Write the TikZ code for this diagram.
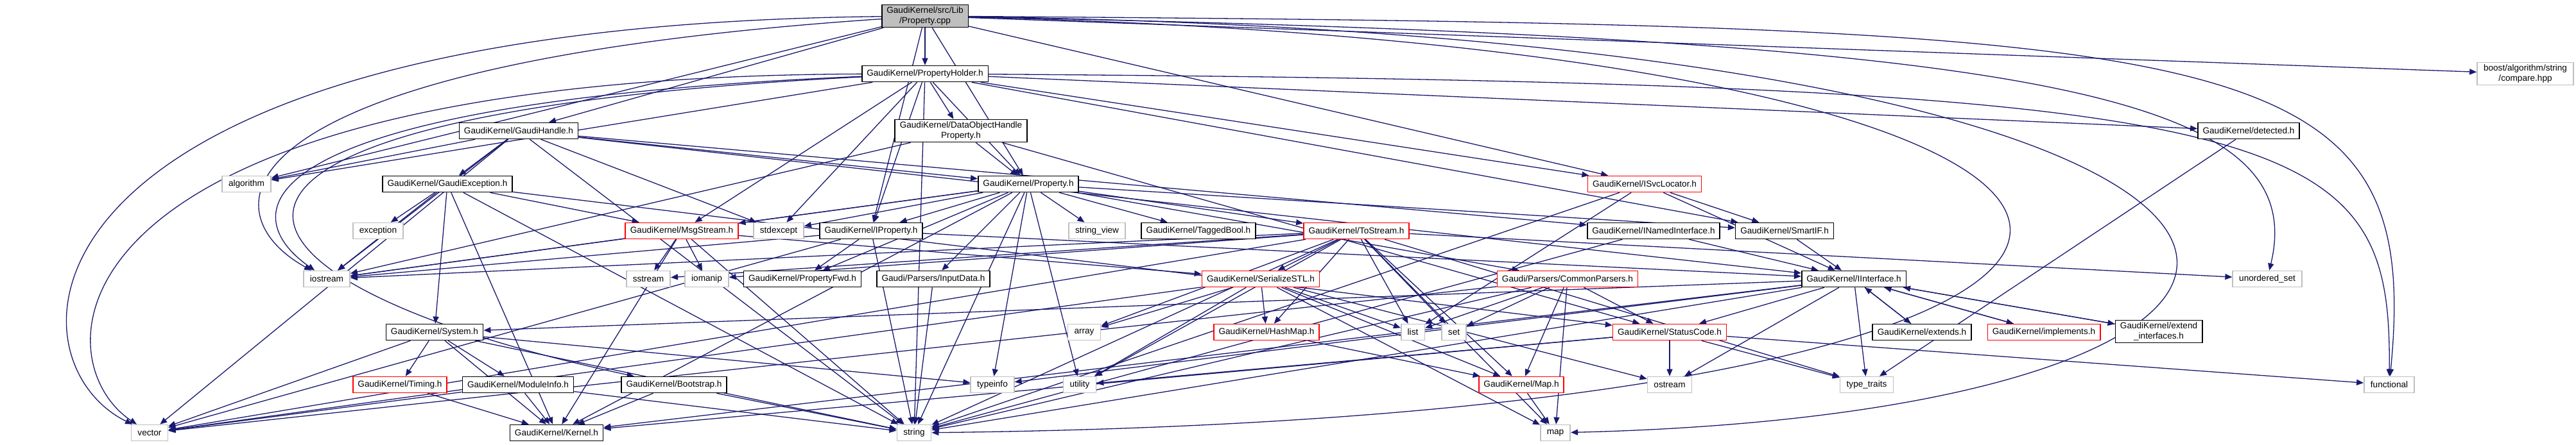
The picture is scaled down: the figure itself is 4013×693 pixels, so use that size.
\documentclass[tikz,border=0pt]{standalone}
\usepackage{fontspec}
\setmainfont{Liberation Sans}
\usetikzlibrary{arrows.meta,backgrounds}
\definecolor{depc}{HTML}{191970}
\definecolor{sysgray}{HTML}{BFBFBF}
\tikzset{
  >={Triangle[length=5.5pt,width=4.5pt]},
  box/.style={draw=black,fill=white,line width=0.8pt,inner xsep=3.8pt,inner ysep=1.5pt,minimum height=12.5pt,font=\fontsize{6.8}{8.2}\selectfont,align=center},
  sbox/.style={box,draw=sysgray,inner xsep=5pt},
  rbox/.style={box,draw=red},
  gbox/.style={box,fill=sysgray},
  dep/.style={->,draw=depc,line width=0.65pt},
}

\begin{document}
\begin{tikzpicture}[x=0.5pt,y=-0.5pt]
\useasboundingbox (0,0) rectangle (4013,693);
% top rows
\node[gbox] (src) at (1441,25) {GaudiKernel/src/Lib\\/Property.cpp};
\node[box] (hold) at (1441,115) {GaudiKernel/PropertyHolder.h};
\node[sbox] (boost) at (3934,115) {boost/algorithm/string\\/compare.hpp};
\node[box] (handle) at (808,204) {GaudiKernel/GaudiHandle.h};
\node[box] (dohp) at (1497,204) {GaudiKernel/DataObjectHandle\\Property.h};
\node[box] (detect) at (3503,204) {GaudiKernel/detected.h};
\node[sbox] (algo) at (384,287) {algorithm};
\node[box] (gexc) at (697,287) {GaudiKernel/GaudiException.h};
\node[box] (prop) at (1602,287) {GaudiKernel/Property.h};
\node[rbox] (isvc) at (2562,287) {GaudiKernel/ISvcLocator.h};
% row y=360
\node[sbox] (exc) at (589,360) {exception};
\node[rbox] (msg) at (1062,360) {GaudiKernel/MsgStream.h};
\node[sbox] (stdx) at (1213,360) {stdexcept};
\node[box] (iprop) at (1357,360) {GaudiKernel/IProperty.h};
\node[sbox] (sview) at (1709,360) {string\_view};
\node[box] (tbool) at (1867,360) {GaudiKernel/TaggedBool.h};
\node[rbox] (tostr) at (2113,360) {GaudiKernel/ToStream.h};
\node[box] (inamed) at (2576,360) {GaudiKernel/INamedInterface.h};
\node[box] (smart) at (2780,360) {GaudiKernel/SmartIF.h};
% row y=435
\node[sbox] (iostr) at (509,435) {iostream};
\node[sbox] (sstr) at (1010,435) {sstream};
\node[sbox] (iomanip) at (1101,435) {iomanip};
\node[box] (pfwd) at (1250,435) {GaudiKernel/PropertyFwd.h};
\node[box] (input) at (1454,435) {Gaudi/Parsers/InputData.h};
\node[rbox] (sstl) at (1964,435) {GaudiKernel/SerializeSTL.h};
\node[rbox] (cparse) at (2442,435) {Gaudi/Parsers/CommonParsers.h};
\node[box] (iintf) at (2888,435) {GaudiKernel/IInterface.h};
\node[sbox] (uset) at (3532,435) {unordered\_set};
% row y=518
\node[box] (system) at (677,518) {GaudiKernel/System.h};
\node[sbox] (array) at (1689,518) {array};
\node[rbox] (hmap) at (1973,518) {GaudiKernel/HashMap.h};
\node[sbox] (list) at (2201,518) {list};
\node[sbox] (set) at (2265,518) {set};
\node[rbox] (scode) at (2601,518) {GaudiKernel/StatusCode.h};
\node[box] (extends) at (2994,518) {GaudiKernel/extends.h};
\node[rbox] (impl) at (3184,518) {GaudiKernel/implements.h};
\node[box] (extif) at (3363,517) {GaudiKernel/extend\\\_interfaces.h};
% row y=600
\node[rbox] (timing) at (623,600) {GaudiKernel/Timing.h};
\node[box] (modinfo) at (807,600) {GaudiKernel/ModuleInfo.h};
\node[box] (boot) at (1050,600) {GaudiKernel/Bootstrap.h};
\node[sbox] (tinfo) at (1546,600) {typeinfo};
\node[sbox] (util) at (1682,600) {utility};
\node[rbox] (gmap) at (2370,600) {GaudiKernel/Map.h};
\node[sbox] (ostr) at (2601,600) {ostream};
\node[sbox] (ttraits) at (2908,600) {type\_traits};
\node[sbox] (func) at (3722,600) {functional};
% bottom row
\node[sbox] (vec) at (233,675) {vector};
\node[box] (kernel) at (867,675) {GaudiKernel/Kernel.h};
\node[sbox] (str) at (1424,675) {string};
\node[sbox] (map) at (2423,675) {map};

\begin{scope}[on background layer]
\foreach \a/\b in {src/hold,src/handle,src/prop,src/iprop,src/isvc,src/boost,src/algo,
  hold/algo,hold/stdx,hold/str,hold/dohp,hold/iprop,hold/isvc,hold/msg,hold/prop,hold/detect,hold/smart,
  handle/gexc,handle/algo,handle/iostr,handle/vec,handle/str,handle/stdx,handle/iintf,handle/inamed,handle/prop,
  dohp/prop,dohp/iostr,dohp/scode,
  gexc/exc,gexc/iostr,gexc/kernel,gexc/str,gexc/msg,gexc/scode,gexc/system,
  prop/input,prop/iprop,prop/kernel,prop/pfwd,prop/smart,prop/tbool,prop/tostr,prop/cparse,prop/stdx,
  prop/str,prop/sview,prop/tinfo,prop/util,prop/iostr,prop/msg,
  iprop/pfwd,iprop/iintf,iprop/iostr,iprop/str,iprop/vec,
  isvc/iintf,isvc/smart,isvc/list,isvc/str,
  inamed/iintf,inamed/str,smart/iintf,
  msg/sstr,msg/iomanip,msg/iostr,msg/str,msg/kernel,msg/sstl,
  tostr/sstl,tostr/hmap,tostr/gmap,tostr/list,tostr/set,tostr/array,tostr/iomanip,tostr/iostr,tostr/sstr,
  tostr/str,tostr/ttraits,tostr/util,tostr/vec,tostr/map,tostr/uset,
  sstl/array,sstl/hmap,sstl/gmap,sstl/map,sstl/list,sstl/ostr,sstl/util,sstl/vec,
  cparse/list,cparse/set,cparse/scode,cparse/gmap,cparse/map,cparse/str,cparse/vec,
  iintf/scode,iintf/ostr,iintf/ttraits,iintf/tinfo,iintf/str,iintf/kernel,iintf/system,
  iintf/extends,iintf/impl,iintf/extif,extends/iintf,impl/iintf,extif/iintf,
  scode/ostr,scode/ttraits,scode/kernel,scode/util,scode/func,
  hmap/gmap,gmap/map,input/str,detect/ttraits,
  system/timing,system/modinfo,system/kernel,system/vec,system/str,system/tinfo,
  timing/kernel,modinfo/kernel,modinfo/vec,modinfo/str,boot/kernel,boot/str}
  \draw[dep] (\a) -- (\b);
% long routes round the sides
\draw[dep] (src) .. controls (0,40) and (0,560) .. (vec);
\draw[dep] (hold) .. controls (60,120) and (60,560) .. (vec);
\draw[dep] (src) .. controls (330,100) and (320,330) .. (iostr);
\draw[dep] (hold) .. controls (380,160) and (360,330) .. (iostr);
\draw[dep] (hold) .. controls (150,180) and (300,440) .. (boot);
\draw[dep] (src) .. controls (3500,40) and (3775,60) .. (func);
\draw[dep] (hold) .. controls (3600,130) and (3725,200) .. (func);
\draw[dep] (src) .. controls (3830,60) and (3830,640) .. (map);
\draw[dep] (src) .. controls (3680,80) and (3680,650) .. (str);
\draw[dep] (src) .. controls (3200,60) and (3600,150) .. (uset);
\end{scope}
\end{tikzpicture}
\end{document}
